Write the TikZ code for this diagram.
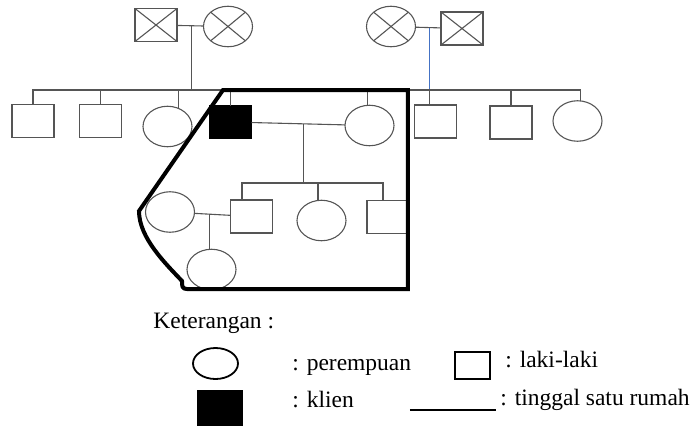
\documentclass[tikz,border=0pt]{standalone}
\usepackage{fontspec}
\setmainfont{Liberation Serif}
\usepackage{tikz}
\usepackage{xcolor}
\usetikzlibrary{shapes.geometric, calc}
\definecolor{kingray}{RGB}{85, 85, 85}
\definecolor{kinblue}{RGB}{68, 114, 196}
\tikzset{
    kinnode/.style={draw=kingray, line width=0.55pt, inner sep=0pt, outer sep=0pt},
    malenode/.style={kinnode, rectangle, minimum width=21pt, minimum height=16.5pt},
    femalenode/.style={kinnode, ellipse, minimum width=24.5pt, minimum height=20.25pt},
    clientnode/.style={malenode, fill=black, draw=black},
    kinline/.style={draw=kingray, line width=0.55pt},
    houseline/.style={line width=2pt},
    legendtext/.style={anchor=base west, inner sep=0pt, font=\fontsize{11.75}{14}\selectfont}
}
\begin{document}
\begin{tikzpicture}[x=0.5pt, y=-0.5pt]
    \useasboundingbox (0,0) rectangle (693,425);
    % grandparents (deceased)
    \node[malenode] (gfl) at (156,25) {};
    \node[femalenode] (gml) at (228,26.5) {};
    \node[femalenode] (gmr) at (391,26.5) {};
    \node[malenode] (gfr) at (462,28.5) {};
    \foreach \n in {gfl, gml, gmr, gfr}
        \draw[kinline] (\n.north west) -- (\n.south east) (\n.north east) -- (\n.south west);
    % siblings and in-laws
    \node[malenode] (s1) at (33,121) {};
    \node[malenode] (s2) at (100.5,121) {};
    \node[femalenode] (e1) at (167.5,126.5) {};
    \node[clientnode] (client) at (230.5,122) {};
    \node[femalenode] (wife) at (369.5,125.5) {};
    \node[malenode] (r1) at (435.5,121.5) {};
    \node[malenode] (r2) at (511,122.5) {};
    \node[femalenode] (r3) at (577.5,121) {};
    % children of the client
    \node[malenode] (c1) at (251.5,216.5) {};
    \node[femalenode] (c2) at (321.5,220.5) {};
    \node[malenode, minimum width=20pt] (c3) at (387,217) {};
    \node[femalenode] (e2) at (170,212) {};
    \node[femalenode] (gc) at (211.5,269.5) {};

    \coordinate (pl) at ($(gfl.east)!0.55!(gml.west)$);
    \coordinate (pr) at ($(gmr.east)!0.54!(gfr.west)$);
    \coordinate (sibl) at (pl |- 0,90);
    \coordinate (sibr) at (pr |- 0,90);
    \draw[kinline] (gfl) -- (gml);
    \draw[kinline] (gmr) -- (gfr);
    \draw[kinline] (pl) -- (sibl);
    \draw[kinline] (s1) |- (sibl) -| (client);
    \draw[kinline] (s2) -- (s2 |- sibl);
    \draw[kinline] (e1.60) -- (e1.60 |- sibl);
    \draw[kinline, draw=kinblue] (pr) -- (sibr);
    \draw[kinline] (wife.95) |- (sibr) -| (r3.82);
    \draw[kinline] (sibr) -- (sibr |- r1.north);
    \draw[kinline] (r2) -- (r2 |- sibr);

    \draw[kinline] (client) -- (wife);
    \coordinate (cm) at ($(client.east)!0.56!(wife.west)$);
    \coordinate (kids) at (cm |- 0,183);
    \draw[kinline] (cm) -- (kids);
    \draw[kinline] ([xshift=-4.75pt]c1.north) |- (kids) -| ([xshift=-2pt]c3.north);
    \draw[kinline] (c2.100) -- (c2.100 |- kids);

    \draw[kinline] (e2) -- (c1);
    \coordinate (gm) at ($(e2.east)!0.42!(c1.west)$);
    \draw[kinline] (gm) -- (gm |- gc.north);

    % one house
    \draw[houseline] (223,90) -- (408,90) -- (408,289) -- (187,289)
        .. controls (182,289) and (182,286) .. (182,281)
        .. controls (166,264) and (139,238) .. (139,211) -- cycle;

    % legend
    \node[legendtext] (ket) at (153,328) {Keterangan :};
    \node[femalenode, draw=black, line width=0.9pt, minimum width=22.5pt, minimum height=15.5pt] (lfem) at (215.5,363.5) {};
    \node[legendtext] (tfem) at (292,370) {: perempuan};
    \node[malenode, draw=black, line width=0.9pt, minimum width=17.5pt, minimum height=13.5pt] (lmal) at (472.5,365.5) {};
    \node[legendtext] (tmal) at (505,367) {: laki-laki};
    \node[clientnode, minimum width=22pt, minimum height=17.5pt] (lcli) at (220,408) {};
    \node[legendtext] (tcli) at (292,407) {: klien};
    \coordinate (lh1) at (410,410);
    \coordinate (lh2) at (496,410);
    \draw[line width=1.2pt] (lh1) -- (lh2);
    \node[legendtext] (thouse) at (500,405) {: tinggal satu rumah};
\end{tikzpicture}
\end{document}
